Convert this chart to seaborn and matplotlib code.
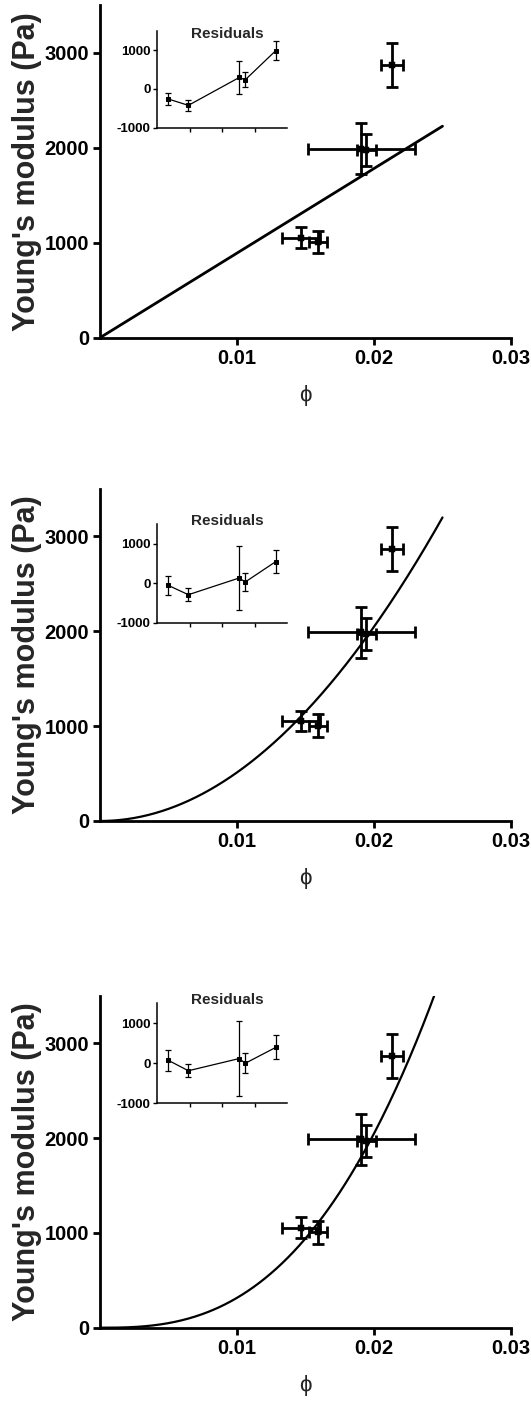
#!/usr/bin/env python3
"""
Young's modulus vs volume fraction, three fits with residual insets.
"""

import numpy as np
import matplotlib
matplotlib.use("Agg")
import matplotlib.pyplot as plt
import seaborn as sns

sns.set_theme(style="ticks")
plt.rcParams['font.family'] = ['Liberation Sans', 'DejaVu Sans']
plt.rcParams['font.weight'] = 'bold'
plt.rcParams['axes.facecolor'] = 'white'
plt.rcParams['axes.unicode_minus'] = False

# measured points (same data in every panel)
phi = [0.01469, 0.01593, 0.01906, 0.01943, 0.02131]
phi_err = [0.0014, 0.00066, 0.0039, 0.00068, 0.00078]
modulus = [1054, 1005, 1988, 1971, 2866]
modulus_err = [109, 119, 269, 167, 229]

# fitted models E = a * phi^n
fit_prefactor = [8.9e4, 5.12e6, 7.92e7]
fit_exponent = [1.0, 2.0, 2.7]
fit_phi_max = 0.025
fit_width = [2.0, 1.6, 1.6]

# residuals shown in the insets
resid = [
    [-260, -424, 294, 234, 987],
    [-51, -289, 136, 34, 553],
    [76, -186, 119, 0, 398],
]
resid_err = [
    [165, 135, 433, 190, 247],
    [247, 170, 825, 235, 290],
    [265, 160, 945, 250, 300],
]

W, H = 531, 1401
fig = plt.figure(figsize=(W / 100, H / 100), dpi=100)
fig.patch.set_facecolor('white')


def frac(left, right, top, bottom):
    return [left / W, 1 - bottom / H, (right - left) / W, (bottom - top) / H]


main_box = [(5, 337.7), (489, 821), (996, 1327.7)]
inset_box = [(30.7, 127.7), (524.3, 622.7), (1003.3, 1103.3)]
title_y = [0.965, 1.03, 1.03]

for i in range(3):
    top, bottom = main_box[i]
    ax = fig.add_axes(frac(100, 511, top, bottom))

    # fitted curve
    xs = np.linspace(0, fit_phi_max, 300)
    ys = fit_prefactor[i] * xs ** fit_exponent[i]
    sns.lineplot(x=xs, y=ys, ax=ax, color='black', lw=fit_width[i], zorder=2)

    # data with error bars
    ax.errorbar(phi, modulus, xerr=phi_err, yerr=modulus_err, fmt='none',
                ecolor='black', elinewidth=2.0, capsize=4.5, capthick=2.0, zorder=3)
    sns.scatterplot(x=phi, y=modulus, ax=ax, marker='s', s=18, color='black',
                    edgecolor='black', zorder=4)

    ax.set_xlim(0, 0.03)
    ax.set_ylim(0, 3500)
    ax.set_xticks([0.01, 0.02, 0.03])
    ax.set_xticklabels(['0.01', '0.02', '0.03'])
    ax.set_yticks([0, 1000, 2000, 3000])
    ax.tick_params(direction='out', length=5, width=2, labelsize=14.5, pad=3,
                   color='black', labelcolor='black')
    for lab in ax.get_xticklabels() + ax.get_yticklabels():
        lab.set_fontweight('bold')
    sns.despine(ax=ax)
    for s in ['left', 'bottom']:
        ax.spines[s].set_linewidth(2)
        ax.spines[s].set_color('black')

    ax.set_ylabel("Young's modulus (Pa)", fontsize=22, fontweight='bold', va='center')
    ax.yaxis.set_label_coords((27 - 100) / 411, 0.5)
    ax.set_xlabel('ϕ', fontsize=16, fontweight='normal', va='center')
    ax.xaxis.set_label_coords(0.5, -58 / (bottom - top))

    # residual inset
    itop, ibottom = inset_box[i]
    axi = fig.add_axes(frac(157, 287, itop, ibottom))
    axi.patch.set_alpha(0)
    axi.errorbar(phi, resid[i], yerr=resid_err[i], fmt='none', ecolor='black',
                 elinewidth=0.9, capsize=2.2, capthick=0.9)
    sns.lineplot(x=phi, y=resid[i], ax=axi, color='black', lw=0.9,
                 marker='s', markersize=2.6, markeredgecolor='black')
    axi.set_xlim(0.014, 0.022)
    axi.set_ylim(-1000, 1500)
    axi.set_xticks([0.016, 0.018, 0.020])
    axi.set_xticklabels([])
    axi.set_yticks([-1000, 0, 1000])
    axi.tick_params(direction='out', length=3, width=1, labelsize=9.5, pad=1.5,
                    color='black', labelcolor='black')
    for lab in axi.get_yticklabels():
        lab.set_fontweight('bold')
    sns.despine(ax=axi)
    for s in ['left', 'bottom']:
        axi.spines[s].set_linewidth(1.1)
        axi.spines[s].set_color('black')
    axi.text(0.54, title_y[i], 'Residuals', transform=axi.transAxes, ha='center',
             va='center', fontsize=11, fontweight='bold')

fig.savefig('out.png', dpi=100, facecolor='white')
